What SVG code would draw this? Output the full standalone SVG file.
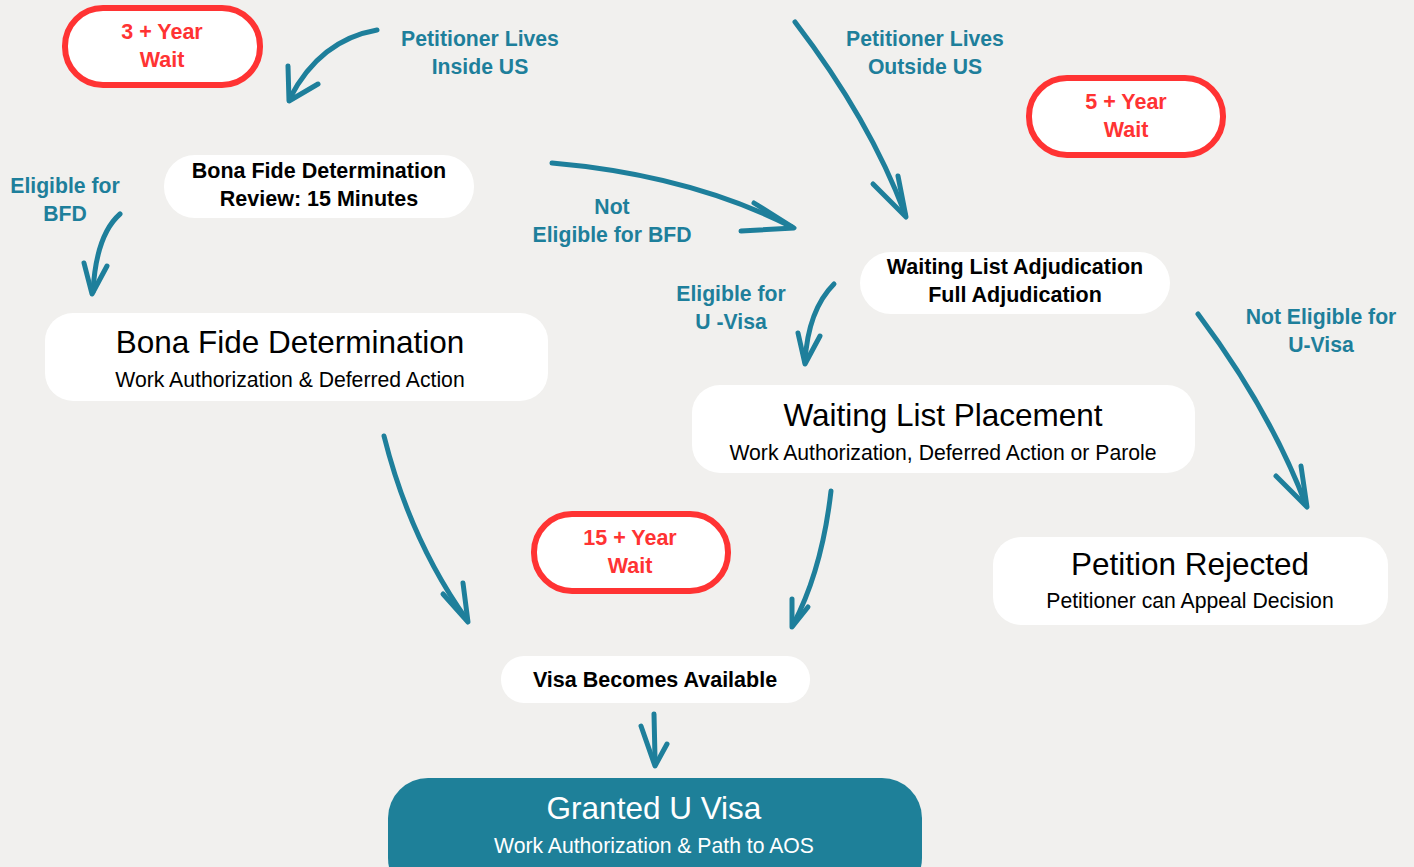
<svg xmlns="http://www.w3.org/2000/svg" width="1414" height="867" viewBox="0 0 1414 867">
<style>
.bg{fill:#f1f0ee}
.box{fill:#ffffff}
.wait{fill:#ffffff;stroke:#ff3333;stroke-width:6}
.wt{font-family:"Liberation Sans",Arial,sans-serif;font-weight:bold;font-size:21.5px;fill:#ff3333;text-anchor:middle}
.lb{font-family:"Liberation Sans",Arial,sans-serif;font-weight:bold;font-size:21.2px;fill:#1e7f9b;text-anchor:middle}
.bt{font-family:"Liberation Sans",Arial,sans-serif;font-weight:bold;font-size:21.5px;fill:#000;text-anchor:middle}
.t1{font-family:"Liberation Sans",Arial,sans-serif;font-size:31.5px;fill:#000;text-anchor:middle}
.t2{font-family:"Liberation Sans",Arial,sans-serif;font-size:21.2px;fill:#000;text-anchor:middle}
.ar{fill:none;stroke:#1e7f9b;stroke-width:5;stroke-linecap:round;stroke-linejoin:round}
</style>
<rect class="bg" x="0" y="0" width="1414" height="867"/>

<g id="wait3"><rect class="wait" x="65" y="8" width="195" height="77" rx="38"/><text class="wt" x="162" y="39">3 + Year</text><text class="wt" x="162" y="67">Wait</text></g>
<g id="wait5"><rect class="wait" x="1029" y="78" width="194" height="77" rx="38"/><text class="wt" x="1126" y="109">5 + Year</text><text class="wt" x="1126" y="137">Wait</text></g>
<g id="wait15"><rect class="wait" x="534" y="514" width="194" height="77" rx="38"/><text class="wt" x="630" y="545">15 + Year</text><text class="wt" x="630" y="573">Wait</text></g>

<g id="bfd-review"><rect class="box" x="164" y="155" width="310" height="63" rx="31"/><text class="bt" x="319" y="178">Bona Fide Determination</text><text class="bt" x="319" y="206">Review: 15 Minutes</text></g>
<g id="bfd"><rect class="box" x="45" y="313" width="503" height="88" rx="28"/><text class="t1" x="290" y="353">Bona Fide Determination</text><text class="t2" x="290" y="387">Work Authorization &amp; Deferred Action</text></g>
<g id="wl-adj"><rect class="box" x="860" y="252" width="310" height="62" rx="31"/><text class="bt" x="1015" y="274">Waiting List Adjudication</text><text class="bt" x="1015" y="302">Full Adjudication</text></g>
<g id="wl-place"><rect class="box" x="692" y="385" width="503" height="88" rx="28"/><text class="t1" x="943" y="426">Waiting List Placement</text><text class="t2" x="943" y="460">Work Authorization, Deferred Action or Parole</text></g>
<g id="rejected"><rect class="box" x="993" y="537" width="395" height="88" rx="28"/><text class="t1" x="1190" y="575">Petition Rejected</text><text class="t2" x="1190" y="608">Petitioner can Appeal Decision</text></g>
<g id="visa-avail"><rect class="box" x="501" y="656" width="309" height="47" rx="23"/><text class="bt" x="655" y="687">Visa Becomes Available</text></g>
<g id="granted"><rect x="388" y="778" width="534" height="120" rx="40" fill="#1e8099"/><text class="t1" x="654" y="819" style="fill:#fff">Granted U Visa</text><text class="t2" x="654" y="853" style="fill:#fff">Work Authorization &amp; Path to AOS</text></g>

<g id="labels">
<text class="lb" x="480" y="46">Petitioner Lives</text><text class="lb" x="480" y="74">Inside US</text>
<text class="lb" x="925" y="46">Petitioner Lives</text><text class="lb" x="925" y="74">Outside US</text>
<text class="lb" x="65" y="193">Eligible for</text><text class="lb" x="65" y="221">BFD</text>
<text class="lb" x="612" y="214">Not</text><text class="lb" x="612" y="242">Eligible for BFD</text>
<text class="lb" x="731" y="301">Eligible for</text><text class="lb" x="731" y="329">U -Visa</text>
<text class="lb" x="1321" y="324">Not Eligible for</text><text class="lb" x="1321" y="352">U-Visa</text>
</g>

<g id="connectors">
<path class="ar" d="M377,30 Q320,40 290,98"/><path class="ar" d="M288,66 L289,101 L318,84"/>
<path class="ar" d="M795,22 Q870,120 905,214"/><path class="ar" d="M873,184 L906,217 L898,176"/>
<path class="ar" d="M552,163 Q690,175 792,227"/><path class="ar" d="M754,203 L794,228 L741,231"/>
<path class="ar" d="M120,214 Q96,235 93,292"/><path class="ar" d="M84,263 L92,294 L107,266"/>
<path class="ar" d="M834,284 Q808,310 805,362"/><path class="ar" d="M798,333 L805,364 L820,336"/>
<path class="ar" d="M384,436 Q410,540 467,620"/><path class="ar" d="M443,594 L468,622 L463,583"/>
<path class="ar" d="M1198,314 Q1270,410 1306,505"/><path class="ar" d="M1276,476 L1307,507 L1301,466"/>
<path class="ar" d="M831,491 Q822,570 793,625"/><path class="ar" d="M792,599 L792,627 L808,607"/>
<path class="ar" d="M654,714 L655,758"/><path class="ar" d="M641,726 L655,766 L667,744"/>
</g>
</svg>
